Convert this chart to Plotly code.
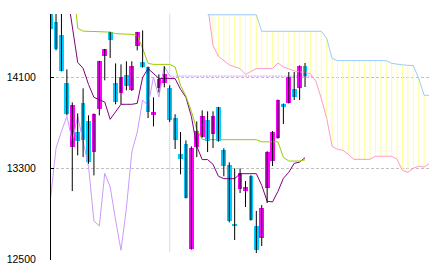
import plotly.graph_objects as go

# ---------------- data ----------------
opens = [14680, 14584, 14469, 14047, 13487, 13616, 13871, 13713, 13443, 13821,
         14287, 14496, 14047, 13962, 14118, 13986, 14375, 14232, 14190, 13777,
         14006, 14047, 14003, 13740, 13426, 13511, 12590, 13487, 13575, 13722,
         13599, 13836, 13458, 13326, 12810, 13118, 13100, 13232, 12793, 12687,
         13127, 13364, 13566, 13865, 13874, 13997, 14006, 14199]
highs = [14720, 14700, 14700, 14170, 13880, 13783, 14003, 13766, 13783, 14245,
         14350, 14500, 14223, 14214, 14241, 14241, 14500, 14513, 14195, 13924,
         14126, 14197, 14030, 13775, 13619, 13546, 13493, 13713, 13810, 13801,
         13801, 13840, 13476, 13353, 13300, 13300, 13188, 13240, 12925, 12977,
         13450, 13628, 13905, 13870, 14147, 14147, 14205, 14226]
lows = [14515, 14337, 14153, 13766, 13100, 13414, 13399, 13341, 13238, 13766,
        14074, 14270, 13863, 13863, 13986, 13980, 14337, 14185, 13742, 13669,
        13968, 14012, 13707, 13470, 13247, 13035, 12585, 13399, 13570, 13443,
        13478, 13535, 13230, 12825, 12670, 13083, 12960, 12840, 12555, 12617,
        12995, 13320, 13560, 13689, 13870, 13900, 13900, 14015]
closes = [14522, 14349, 14155, 13777, 13854, 13540, 13549, 13355, 13775, 14241,
          14346, 14425, 13883, 14100, 14021, 14197, 14496, 14190, 13795, 13792,
          14082, 14126, 13725, 13549, 13382, 13039, 13476, 13625, 13757, 13540,
          13757, 13540, 13318, 12837, 12793, 13256, 13136, 12846, 12579, 12951,
          13443, 13619, 13900, 13848, 14103, 13927, 14199, 14111]

tenkan_start = 3
tenkan = [14865, 14566, 14232, 14179, 14038, 13924, 13902, 13883, 13731, 13801,
          13863, 13863, 13863, 13871, 14100, 14177, 14131, 14091, 14089, 14089,
          14089, 13995, 13924, 13757, 13493, 13377, 13377, 13335, 13230, 13209,
          13209, 13209, 13253, 13253, 13253, 13253, 13150, 13010, 13005, 13098,
          13212, 13265, 13344, 13355, 13394]
kijun_start = 4
kijun = [15040, 14531, 14506, 14504, 14504, 14504, 14504, 14498, 14484, 14484,
         14484, 14478, 14469, 14355, 14223, 14214, 14214, 14214, 14214, 14191,
         14030, 13933, 13801, 13643, 13555, 13552, 13552, 13552, 13552, 13552,
         13552, 13552, 13552, 13552, 13552, 13533, 13533, 13533, 13533, 13397,
         13364, 13364, 13364, 13375]

senkou_start = 29
senkou_pink = [14733, 14381, 14285, 14249, 14210, 14192, 14177, 14126, 14153, 14177,
               14177, 14177, 14177, 14226, 14191, 14175, 14157, 14147, 14144, 14131,
               14065, 13915, 13740, 13493, 13467, 13458, 13423, 13379, 13379, 13379,
               13379, 13406, 13406, 13406, 13406, 13379, 13282, 13265, 13300, 13318,
               13311, 13344]
senkou_blue = [14650, 14650, 14650, 14650, 14650, 14650, 14650, 14650, 14650, 14650,
               14505, 14505, 14505, 14505, 14505, 14505, 14505, 14505, 14505, 14505,
               14505, 14505, 14443, 14267, 14247, 14247, 14247, 14247, 14247, 14247,
               14247, 14247, 14247, 14247, 14223, 14214, 14210, 14206, 14203, 14091,
               13942, 13942]
cloud_fill_start = 30
cloud_fill_end = 69

chikou_shift = 25

ytick_vals = [12500, 13300, 14100]
ytick_text = ["12500", "13300", "14100"]

# ---------------- styles ----------------
UP = "#ff00ff"
DOWN = "#00ccff"
PURPLE = "#800080"
GREEN = "#99cc00"
LAVENDER = "#cc99ff"
PINK = "#ff99cc"
BLUE = "#99ccff"
YELLOW = "#ffff99"

n = len(closes)
idx = list(range(n))

fig = go.Figure()

# cloud fill (vertical yellow lines per bar)
fx, fy = [], []
for i in range(cloud_fill_start, cloud_fill_end + 1):
    k = i - senkou_start
    fx += [i, i, None]
    fy += [senkou_pink[k], senkou_blue[k], None]
fig.add_trace(go.Scatter(x=fx, y=fy, mode="lines", line=dict(color=YELLOW, width=1),
                         hoverinfo="skip"))

sx = [senkou_start + k for k in range(len(senkou_pink))]
fig.add_trace(go.Scatter(x=sx, y=senkou_pink, mode="lines", line=dict(color=PINK, width=1)))
fig.add_trace(go.Scatter(x=sx, y=senkou_blue, mode="lines", line=dict(color=BLUE, width=1)))

# chikou span (close shifted back)
chikou = closes[chikou_shift:]
fig.add_trace(go.Scatter(x=list(range(len(chikou))), y=chikou, mode="lines",
                         line=dict(color=LAVENDER, width=1)))

# tenkan / kijun
fig.add_trace(go.Scatter(x=[tenkan_start + k for k in range(len(tenkan))], y=tenkan,
                         mode="lines", line=dict(color=PURPLE, width=1)))
fig.add_trace(go.Scatter(x=[kijun_start + k for k in range(len(kijun))], y=kijun,
                         mode="lines", line=dict(color=GREEN, width=1)))

# wicks
wx, wy = [], []
for i in idx:
    wx += [i, i, None]
    wy += [lows[i], highs[i], None]
fig.add_trace(go.Scatter(x=wx, y=wy, mode="lines", line=dict(color="black", width=1)))

# bodies
base = [min(o, c) for o, c in zip(opens, closes)]
height = [max(abs(c - o), 14) for o, c in zip(opens, closes)]
colors = [UP if c >= o else DOWN for o, c in zip(opens, closes)]
fig.add_trace(go.Bar(x=idx, y=height, base=base, width=0.88,
                     marker=dict(color=colors, line=dict(width=0))))

# crosshair at chikou end
cx = len(chikou) - 1
fig.add_shape(type="line", xref="x", yref="paper", x0=cx, x1=cx, y0=0.035, y1=1,
              line=dict(color=LAVENDER, width=1, dash="1px,1px"), layer="between")
fig.add_shape(type="line", xref="x", yref="y", x0=cx, x1=n + 0.3, y0=closes[-1], y1=closes[-1],
              line=dict(color=LAVENDER, width=1, dash="2px,1px"), layer="between")

fig.update_layout(
    width=434, height=273,
    margin=dict(l=51, r=5, t=14, b=13),
    paper_bgcolor="white", plot_bgcolor="white",
    showlegend=False, barmode="overlay", bargap=0,
    xaxis=dict(range=[0.07, 69.9], visible=False, fixedrange=True),
    yaxis=dict(range=[12494, 14657], tickvals=ytick_vals, ticktext=ytick_text,
               showgrid=True, gridcolor="#c0c0c0", griddash="3px,2px", gridwidth=1,
               showline=True, linecolor="black", linewidth=1,
               ticks="inside", ticklen=3, tickcolor="black", tickwidth=1,
               zeroline=False, ticklabelstandoff=12,
               tickfont=dict(family="Liberation Sans", size=10.5, color="black")),
)

fig.write_html("out.html")
